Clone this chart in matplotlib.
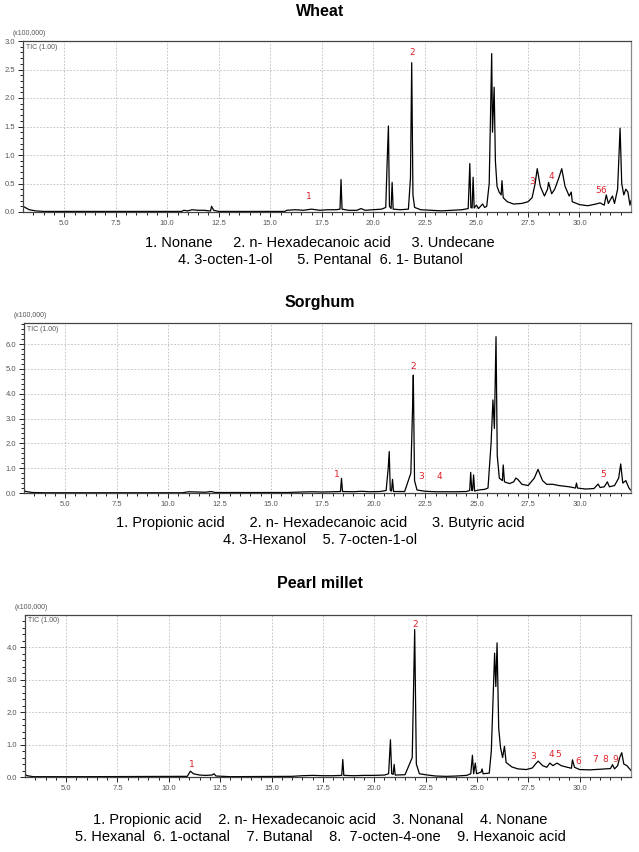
import matplotlib
matplotlib.use("Agg")
import matplotlib.pyplot as plt
import numpy as np

plt.rcParams['font.family'] = ['Liberation Sans', 'DejaVu Sans']

# retention time (min) / intensity (x100,000)
wheat_t = [3.0, 3.1, 3.3, 3.6, 4.0, 6.0, 8.0, 10.7, 10.8, 11.0, 11.2, 11.5, 11.8, 12.0, 12.1, 12.15, 12.25, 12.5,
           15.7, 15.8, 16.2, 16.6, 17.0, 17.4, 17.8, 18.2, 18.38, 18.43, 18.48, 18.8, 19.2, 19.4, 19.6, 20.0, 20.4,
           20.6, 20.68, 20.73, 20.78, 20.86, 20.91, 20.96, 21.3, 21.7, 21.8, 21.86, 21.92, 22.0, 22.3, 22.8, 23.3,
           23.8, 24.3, 24.6, 24.68, 24.73, 24.79, 24.84, 24.89, 25.0, 25.1, 25.3, 25.4, 25.5, 25.62, 25.7, 25.74,
           25.78, 25.86, 25.92, 26.0, 26.1, 26.2, 26.24, 26.3, 26.5, 26.8, 27.2, 27.5, 27.7, 27.85, 27.95, 28.1,
           28.3, 28.45, 28.5, 28.65, 28.8, 29.0, 29.14, 29.3, 29.5, 29.6, 29.65, 30.0, 30.4, 30.8, 31.0, 31.2, 31.3,
           31.4, 31.6, 31.7, 31.85, 31.97, 32.05, 32.15, 32.25, 32.35, 32.45, 32.5]
wheat_i = [0.10, 0.08, 0.04, 0.02, 0.01, 0.01, 0.01, 0.01, 0.03, 0.02, 0.04, 0.03, 0.03, 0.02, 0.02, 0.10, 0.03, 0.01,
           0.01, 0.03, 0.04, 0.03, 0.05, 0.03, 0.04, 0.04, 0.05, 0.57, 0.05, 0.03, 0.03, 0.06, 0.03, 0.04, 0.05,
           0.08, 1.00, 1.51, 0.10, 0.06, 0.52, 0.05, 0.04, 0.05, 0.60, 2.62, 0.30, 0.08, 0.04, 0.03, 0.02,
           0.03, 0.04, 0.06, 0.85, 0.08, 0.07, 0.61, 0.07, 0.12, 0.06, 0.14, 0.08, 0.10, 0.50, 2.00, 2.78,
           1.40, 2.19, 0.90, 0.45, 0.35, 0.30, 0.55, 0.25, 0.18, 0.14, 0.15, 0.18, 0.25, 0.50, 0.76, 0.45,
           0.28, 0.40, 0.52, 0.32, 0.40, 0.60, 0.76, 0.45, 0.28, 0.35, 0.18, 0.13, 0.11, 0.14, 0.16, 0.12, 0.30,
           0.15, 0.28, 0.15, 0.40, 1.47, 0.50, 0.30, 0.40, 0.35, 0.12, 0.20]

sorghum_t = [3.0, 3.1, 3.4, 4.0, 7.0, 10.7, 11.0, 11.4, 11.8, 12.1, 12.3, 15.8, 16.5, 17.0, 17.5, 18.0, 18.38, 18.43,
             18.48, 19.0, 19.4, 19.8, 20.3, 20.6, 20.7, 20.75, 20.8, 20.86, 20.91, 20.96, 21.5, 21.8, 21.88, 21.92,
             21.98, 22.1, 22.5, 23.0, 24.0, 24.5, 24.66, 24.71, 24.76, 24.8, 24.85, 24.9, 25.1, 25.4, 25.55, 25.7,
             25.79, 25.86, 25.94, 26.0, 26.1, 26.25, 26.29, 26.35, 26.6, 26.8, 26.9, 27.0, 27.2, 27.5, 27.8, 27.98,
             28.2, 28.4, 28.7, 29.0, 29.5, 29.8, 29.85, 29.9, 30.3, 30.7, 30.9, 31.0, 31.2, 31.35, 31.45, 31.7, 31.9,
             32.0, 32.1, 32.25, 32.4, 32.5]
sorghum_i = [0.10, 0.06, 0.02, 0.01, 0.01, 0.01, 0.05, 0.04, 0.03, 0.06, 0.02, 0.02, 0.04, 0.05, 0.04, 0.05, 0.06, 0.59,
             0.06, 0.05, 0.07, 0.05, 0.06, 0.10, 1.00, 1.67, 0.10, 0.08, 0.55, 0.06, 0.06, 0.80, 3.30, 4.75,
             0.50, 0.12, 0.07, 0.05, 0.05, 0.06, 0.10, 0.83, 0.10, 0.10, 0.73, 0.08, 0.12, 0.15, 0.20, 2.00,
             3.75, 2.60, 6.30, 1.50, 0.60, 0.50, 1.13, 0.45, 0.38, 0.45, 0.60, 0.55, 0.35, 0.30, 0.60, 0.95,
             0.50, 0.35, 0.35, 0.30, 0.25, 0.20, 0.40, 0.20, 0.16, 0.18, 0.36, 0.22, 0.25, 0.45, 0.25, 0.30, 0.60,
             1.17, 0.40, 0.50, 0.20, 0.10]

millet_t = [3.0, 3.1, 3.4, 6.0, 10.9, 11.05, 11.2, 11.5, 11.8, 12.1, 12.2, 12.3, 13.0, 16.0, 16.5, 17.0, 17.5, 18.0,
            18.42, 18.47, 18.52, 19.0, 19.5, 20.0, 20.5, 20.7, 20.79, 20.85, 20.92, 20.97, 21.02, 21.5, 21.85, 21.97,
            22.05, 22.2, 22.6, 23.0, 23.5, 24.0, 24.5, 24.7, 24.78, 24.84, 24.92, 24.98, 25.2, 25.25, 25.3, 25.6,
            25.7, 25.86, 25.92, 25.98, 26.06, 26.15, 26.25, 26.34, 26.42, 26.7, 27.0, 27.4, 27.7, 27.85, 27.98,
            28.2, 28.4, 28.55, 28.7, 28.9, 29.1, 29.4, 29.6, 29.65, 29.75, 30.0, 30.5, 31.0, 31.5, 31.6, 31.7,
            31.85, 31.95, 32.05, 32.15, 32.3, 32.5]
millet_i = [0.08, 0.04, 0.01, 0.01, 0.02, 0.18, 0.10, 0.06, 0.05, 0.06, 0.10, 0.03, 0.01, 0.02, 0.04, 0.05, 0.04, 0.04,
            0.05, 0.54, 0.05, 0.04, 0.05, 0.05, 0.06, 0.10, 1.15, 0.10, 0.08, 0.39, 0.06, 0.07, 0.60, 4.55,
            0.40, 0.10, 0.06, 0.03, 0.02, 0.03, 0.05, 0.10, 0.67, 0.10, 0.43, 0.10, 0.15, 0.25, 0.10, 0.12,
            0.80, 3.82, 2.79, 4.14, 1.50, 0.90, 0.60, 0.95, 0.45, 0.31, 0.25, 0.23, 0.28, 0.40, 0.49,
            0.35, 0.30, 0.43, 0.35, 0.43, 0.35, 0.30, 0.27, 0.53, 0.30, 0.23, 0.22, 0.24, 0.26, 0.38, 0.25,
            0.35, 0.60, 0.75, 0.40, 0.35, 0.20]

# peak numbers: (label, time, intensity)
wheat_peaks = [("1", 16.85, 0.20), ("2", 21.86, 2.72), ("3", 27.71, 0.46), ("4", 28.63, 0.55),
               ("5", 30.9, 0.30), ("6", 31.15, 0.30)]
sorghum_peaks = [("1", 18.19, 0.56), ("2", 21.92, 4.9), ("3", 22.3, 0.5), ("4", 23.18, 0.5), ("5", 31.13, 0.55)]
millet_peaks = [("1", 11.1, 0.25), ("2", 21.97, 4.58), ("3", 27.74, 0.49), ("4", 28.63, 0.56), ("5", 28.95, 0.56),
                ("6", 29.92, 0.33), ("7", 30.76, 0.39), ("8", 31.24, 0.39), ("9", 31.73, 0.39)]

wheat_legend = ["1. Nonane     2. n- Hexadecanoic acid     3. Undecane",
                "4. 3-octen-1-ol      5. Pentanal  6. 1- Butanol"]
sorghum_legend = ["1. Propionic acid      2. n- Hexadecanoic acid      3. Butyric acid",
                  "4. 3-Hexanol    5. 7-octen-1-ol"]
millet_legend = ["1. Propionic acid    2. n- Hexadecanoic acid    3. Nonanal    4. Nonane",
                 "5. Hexanal  6. 1-octanal    7. Butanal    8.  7-octen-4-one    9. Hexanoic acid"]

W, H = 639, 852
fig = plt.figure(figsize=(W / 100, H / 100), dpi=100)


def px(x, y):
    return x / W, 1 - y / H


def chrom(title, t, inten, peaks, legend, box, ylim, ymajor, yminor, title_y, leg_y):
    l, r, top, bot = box
    ax = fig.add_axes([l / W, 1 - bot / H, (r - l) / W, (bot - top) / H])
    ax.plot(t, inten, color='black', lw=0.9)
    ax.set_xlim(3.0, 32.5)
    ax.set_ylim(0, ylim)
    ax.set_xticks(np.arange(5.0, 31.0, 2.5))
    ax.set_xticks(np.arange(3.5, 32.5, 0.5), minor=True)
    ax.set_yticks(np.arange(0, ylim + 0.001, ymajor))
    ax.set_yticks(np.arange(0, ylim, yminor), minor=True)
    ax.xaxis.set_major_formatter(plt.FuncFormatter(lambda v, p: f"{v:.1f}"))
    ax.yaxis.set_major_formatter(plt.FuncFormatter(lambda v, p: f"{v:.1f}"))
    ax.tick_params(which='both', direction='out', color='#222', width=0.7, labelsize=5.5, labelcolor='#555')
    ax.tick_params(which='major', length=3.5, pad=2)
    ax.tick_params(which='minor', length=2)
    ax.grid(True, which='major', color='#bbbbbb', ls=(0, (2, 2)), lw=0.6)
    for s in ax.spines.values():
        s.set_linewidth(0.9)
        s.set_color('#444')
    ax.spines['right'].set_color('#888')
    for lab, pt, pi in peaks:
        ax.text(pt, pi, lab, color='#e0202a', fontsize=6.5, ha='center', va='bottom', family='DejaVu Sans')
    ax.text(0.005, 0.985, "TIC (1.00)", transform=ax.transAxes, fontsize=5, color='#555', va='top')
    fig.text(*px(l - 10, top - 4), "(x100,000)", fontsize=5, color='#555', va='bottom')
    fig.text(*px(320, title_y), title, fontsize=11.5, fontweight='bold', ha='center', va='center')
    for k, line in enumerate(legend):
        fig.text(*px(320, leg_y + 17 * k), line, fontsize=10.5, ha='center', va='center')
    return ax


chrom("Wheat", wheat_t, wheat_i, wheat_peaks, wheat_legend, (23, 631, 41, 212), 3.0, 0.5, 0.1, 12, 243)
chrom("Sorghum", sorghum_t, sorghum_i, sorghum_peaks, sorghum_legend, (24, 631, 323, 493), 6.85, 1.0, 0.2, 302, 523)
ax = chrom("Pearl millet", millet_t, millet_i, millet_peaks, millet_legend, (25, 631, 615, 777), 5.0, 1.0, 0.2, 583, 820)
ax.set_yticks(np.arange(0, 4.5, 1.0))

fig.savefig("out.png", dpi=100)
